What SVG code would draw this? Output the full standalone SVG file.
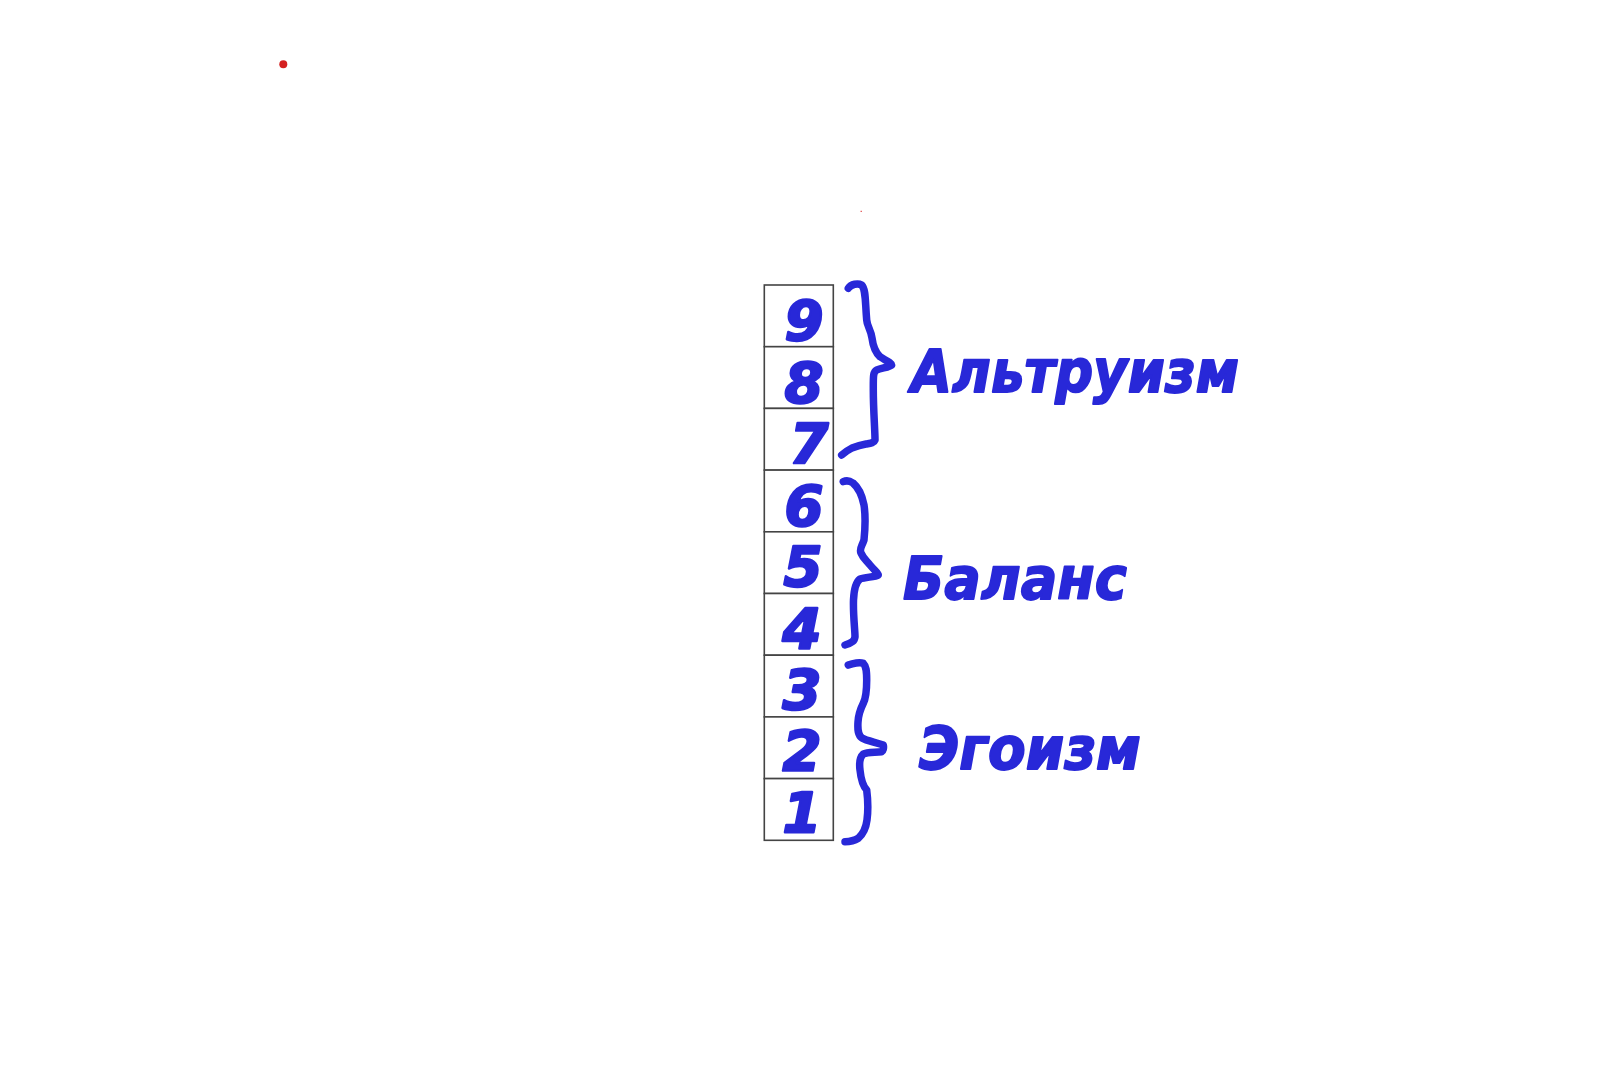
<svg xmlns="http://www.w3.org/2000/svg" width="1620" height="1080" viewBox="0 0 1620 1080">
<style>
.cell{fill:#fff;stroke:#444;stroke-width:1.6}
.num{font-family:"DejaVu Sans",sans-serif;font-weight:bold;font-style:italic;font-size:56px;fill:#2828d8;stroke:#2828d8;stroke-width:2.4;stroke-linejoin:round;text-anchor:middle}
.lbl{font-family:"DejaVu Sans",sans-serif;font-weight:bold;font-style:italic;font-size:59px;fill:#2828d8;stroke:#2828d8;stroke-width:1.8;stroke-linejoin:round}
.brace{fill:none;stroke:#2828d8;stroke-width:7.5;stroke-linecap:round;stroke-linejoin:round}
</style>
<rect width="1620" height="1080" fill="#fff"/>
<circle cx="283.3" cy="64.3" r="4" fill="#d42020"/>
<rect x="860.5" y="210.8" width="1.5" height="1" fill="#e04040"/>
<g id="scale">
<rect class="cell" x="764.3" y="285" width="69" height="61.7"/>
<rect class="cell" x="764.3" y="346.7" width="69" height="61.7"/>
<rect class="cell" x="764.3" y="408.4" width="69" height="61.7"/>
<rect class="cell" x="764.3" y="470.1" width="69" height="61.7"/>
<rect class="cell" x="764.3" y="531.8" width="69" height="61.7"/>
<rect class="cell" x="764.3" y="593.5" width="69" height="61.7"/>
<rect class="cell" x="764.3" y="655.2" width="69" height="61.7"/>
<rect class="cell" x="764.3" y="716.9" width="69" height="61.7"/>
<rect class="cell" x="764.3" y="778.6" width="69" height="61.7"/>
<text class="num" x="804" y="340">9</text>
<text class="num" x="804" y="402">8</text>
<text class="num" x="809" y="463">7</text>
<text class="num" x="804" y="525">6</text>
<text class="num" x="803" y="586">5</text>
<text class="num" x="802" y="648">4</text>
<text class="num" x="802" y="709">3</text>
<text class="num" x="802" y="770">2</text>
<text class="num" x="802" y="832">1</text>
</g>
<g id="connectors">
<path class="brace" d="M848.3,288.3 C851,284 858,283 861.7,285 C866,290 865,300 866.7,320 C867,326 871,330 872,338 C873,346 875,352 880,356.7 C885,360 891.7,363 891.7,365 C890,367 882,368 876.7,370 C873,372 873.3,376 873.3,390 C873.3,410 875,430 875,440 C874,443 871,443.3 866,444 C860,445 857,446 852,448 C848,450 844,453 841.7,455"/>
<path class="brace" d="M843.3,481.7 C847,480 850,481 853,483 C859,488 862,495 864,505 C866,518 865,530 864,540 C862,546 859,549 861,553 C863,558 866,560 870,565 C875,571 878.3,573 878.3,575 C875,577 866,577 860,579 C856,582 854,588 853.5,600 C853,615 855,630 855,636.7 C854.5,641 852,643 845,645"/>
<path class="brace" d="M848.3,665 C853,663 860,662 863.3,663.3 C866,666 866.7,670 866.7,680 C866.7,690 866,698 863.3,703.3 C860,710 858.3,716 858,722 C857.5,730 858,735 862,738 C867,741 875,742 883.3,745 C884,748 883,751 881.7,751.7 C874,752.5 867,752 863.3,754 C860,757 859,762 860,770 C861,780 863,786 866.7,790 C868,800 868.3,810 867,820 C866,828 862,835 858.3,838.3 C854,841 849,841.7 845,841.7"/>
</g>
<g id="label-altruism"><text class="lbl" x="911" y="391.7" textLength="328" lengthAdjust="spacingAndGlyphs">Альтруизм</text></g>
<g id="label-balance"><text class="lbl" x="903" y="599.3" textLength="224" lengthAdjust="spacingAndGlyphs">Баланс</text></g>
<g id="label-egoism"><text class="lbl" x="919" y="769.3" textLength="222" lengthAdjust="spacingAndGlyphs">Эгоизм</text></g>
</svg>
